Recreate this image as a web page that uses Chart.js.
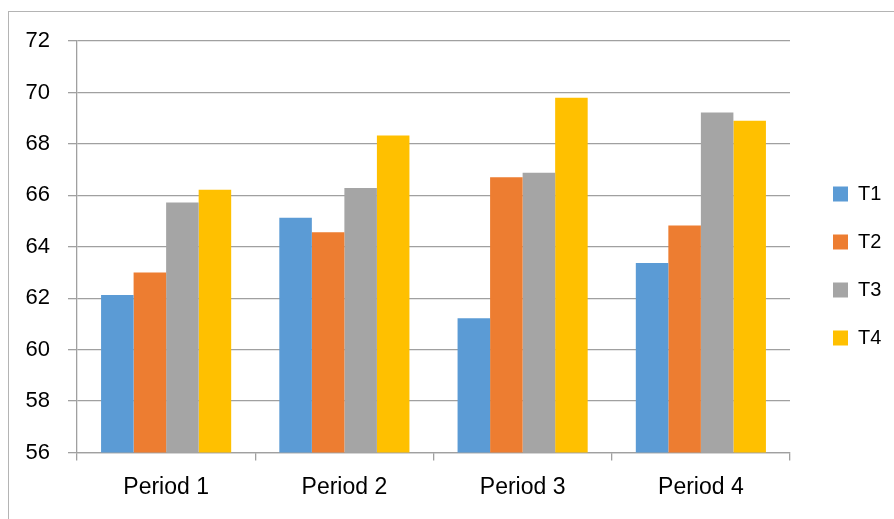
<!DOCTYPE html>
<html lang="en">
<head>
    <meta charset="UTF-8">
    <title>Periods T1-T4</title>
    <script src="https://cdn.jsdelivr.net/npm/chart.js"></script>
    <style>
        body {
            margin: 0;
            background: #fff;
            overflow: hidden;
        }
        .frame {
            position: absolute;
            left: 8px;
            top: 11px;
            width: 900px;
            height: 520px;
            border: 1px solid #b4b4b4;
        }
        .wrap {
            position: absolute;
            left: 0;
            top: 0;
            width: 894px;
            height: 519px;
        }
    </style>
</head>
<body>
    <div class="frame"></div>
    <div class="wrap"><canvas id="chart"></canvas></div>
    <script>
        const categories = ['Period 1', 'Period 2', 'Period 3', 'Period 4'];
        const t1 = [62.12, 65.13, 61.22, 63.37];
        const t2 = [63.0, 64.56, 66.70, 64.83];
        const t3 = [65.72, 66.28, 66.88, 69.22];
        const t4 = [66.22, 68.33, 69.79, 68.90];
        const seriesNames = ['T1', 'T2', 'T3', 'T4'];
        const colors = ['#5B9BD5', '#ED7D31', '#A5A5A5', '#FFC000'];

        const gridColor = '#a0a0a0';
        const family = "'Liberation Sans', Arial, sans-serif";

        // nudge the legend so it sits where the original has it
        const legendShift = {
            id: 'legendShift',
            beforeInit(chart) {
                const lg = chart.legend;
                const fit = lg.fit;
                lg.fit = function () {
                    fit.call(this);
                    this.width = 104;
                };
            },
            afterLayout(chart) {
                const lg = chart.legend;
                lg.left += 15; lg.right += 15;
                lg.top -= 14; lg.bottom -= 14;
            }
        };

        new Chart(document.getElementById('chart'), {
            type: 'bar',
            data: {
                labels: categories,
                datasets: [t1, t2, t3, t4].map((d, i) => ({
                    label: seriesNames[i],
                    data: d,
                    backgroundColor: colors[i],
                    borderWidth: 0,
                    categoryPercentage: 0.73,
                    barPercentage: 1.0
                }))
            },
            options: {
                responsive: true,
                maintainAspectRatio: false,
                animation: false,
                layout: { padding: { top: 41, left: 0, right: 0, bottom: 0 } },
                plugins: {
                    tooltip: { enabled: false },
                    legend: {
                        position: 'right',
                        labels: {
                            boxWidth: 15,
                            boxHeight: 15,
                            padding: 28,
                            color: '#000',
                            font: { family: family, size: 20 }
                        }
                    }
                },
                scales: {
                    x: {
                        grid: {
                            drawOnChartArea: false,
                            drawTicks: true,
                            tickLength: 8,
                            color: gridColor,
                            lineWidth: 1.3
                        },
                        border: { color: gridColor, width: 1.3 },
                        ticks: { color: '#000', font: { family: family, size: 23 }, padding: 13 },
                        afterFit: s => { s.height = 66.5; }
                    },
                    y: {
                        min: 56,
                        max: 72,
                        ticks: { stepSize: 2, color: '#000', font: { family: family, size: 22 }, padding: 18 },
                        grid: { color: gridColor, lineWidth: 1.3, tickLength: 9 },
                        border: { color: gridColor, width: 1.3 },
                        afterFit: s => { s.width = 77; }
                    }
                }
            },
            plugins: [legendShift]
        });
    </script>
</body>
</html>
